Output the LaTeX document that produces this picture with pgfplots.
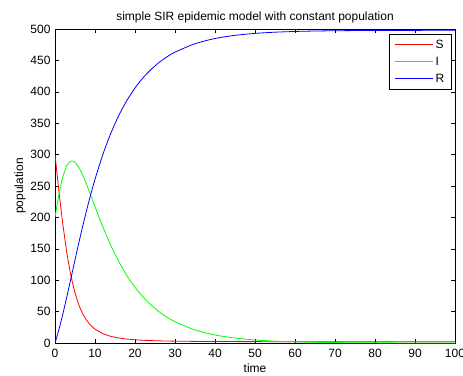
\documentclass[border=0pt]{standalone}
\usepackage{fontspec}
\setmainfont{Liberation Sans}
\usepackage{pgfplots}
\pgfplotsset{compat=1.18}
\begin{document}
\begin{tikzpicture}
\path[use as bounding box] (-55bp,-33bp) rectangle (408bp,343bp);
\begin{axis}[
  scale only axis,
  width=400bp, height=314bp,
  xmin=0, xmax=100, ymin=0, ymax=500,
  xtick={0,10,...,100}, ytick={0,50,...,500},
  tick align=inside,
  major tick length=4bp,
  tick style={black, line width=0.5pt},
  axis line style={black, line width=0.6pt},
  font=\fontsize{12bp}{14bp}\selectfont,
  /pgf/number format/assume math mode=true,
  ticklabel style={font=\fontsize{12bp}{14bp}\selectfont},
  xticklabel style={yshift=-2.5bp},
  yticklabel style={xshift=-1bp},
  title={simple SIR epidemic model with constant population},
  title style={font=\fontsize{12bp}{14bp}\selectfont, yshift=-3bp},
  xlabel={time}, ylabel={population},
  xlabel style={font=\fontsize{12bp}{14bp}\selectfont, yshift=1bp},
  ylabel style={font=\fontsize{12bp}{14bp}\selectfont, yshift=-2bp},
  legend style={name=L, at={(1,1)}, xshift=-4bp, yshift=-5bp, anchor=north east,
     draw=none, fill=white,
     font=\fontsize{12bp}{14bp}\selectfont, cells={anchor=west}, inner xsep=4bp, inner ysep=2bp,
     nodes={inner xsep=2.5bp, inner ysep=0pt, minimum height=17bp}},
  legend image code/.code={\draw[line width=1.2bp,#1] (0bp,0bp) -- (38bp,0bp);},
  every axis plot/.append style={line width=0.8pt, smooth, tension=0.4},
]
\addplot[color=red] coordinates {
(0,300) (0.5,270.1) (1,240.97) (1.5,213.12) (2,187.26) (3,142.19) (4,106.67) (5,79.86) (6,60.12)
(7,45.78) (8,35.34) (9,27.73) (10,22.13) (12,14.81) (14,10.56) (16,7.96)
(18,6.29) (20,5.17) (22,4.40) (24,3.85) (26,3.45) (28,3.15) (30,2.92)
(35,2.554) (40,2.352) (45,2.236) (50,2.168) (55,2.127) (60,2.103) (65,2.088)
(70,2.079) (75,2.073) (80,2.070) (85,2.068) (90,2.066) (95,2.065) (100,2.065)
};
\addlegendentry{S}
\addplot[color=green] coordinates {
(0,200) (0.5,219.4) (1,237.12) (1.5,252.69) (2,265.61) (3,283.15) (4,289.93) (5,287.79) (6,279.14)
(7,266.19) (8,250.77) (9,234.13) (10,217.16) (12,184.37) (14,154.77) (16,129.05)
(18,107.16) (20,88.74) (22,73.35) (24,60.55) (26,49.93) (28,41.1) (30,33.90)
(35,20.81) (40,12.77) (45,7.83) (50,4.80) (55,2.945) (60,1.806) (65,1.108)
(70,0.679) (75,0.417) (80,0.256) (85,0.157) (90,0.096) (95,0.059) (100,0.036)
};
\addlegendentry{I}
\addplot[color=blue] coordinates {
(0,0) (0.5,10.5) (1,21.91) (1.5,34.19) (2,47.13) (3,74.66) (4,103.40) (5,132.35) (6,160.74)
(7,188.03) (8,213.89) (9,238.14) (10,260.71) (12,300.82) (14,334.67) (16,362.99)
(18,386.55) (20,406.09) (22,422.25) (24,435.60) (26,446.62) (28,455.75) (30,463.18)
(35,476.64) (40,484.88) (45,489.93) (50,493.03) (55,494.93) (60,496.09) (65,496.81)
(70,497.24) (75,497.51) (80,497.67) (85,497.78) (90,497.84) (95,497.88) (100,497.90)
};
\addlegendentry{R}
\end{axis}
\draw[black, line width=0.6pt] (L.south west) rectangle (L.north east);
\end{tikzpicture}
\end{document}
